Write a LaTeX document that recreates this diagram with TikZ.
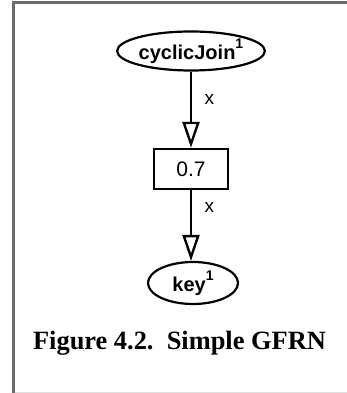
\documentclass[tikz,border=0pt]{standalone}
\usepackage{fontspec}
\setmainfont{Liberation Serif}
\setsansfont{Liberation Sans}
\usetikzlibrary{arrows.meta,shapes.geometric}
\newcommand{\supone}{\raisebox{0.55em}{\fontsize{14}{14}\selectfont 1}}
\begin{document}
\begin{tikzpicture}[x=1pt,y=-1pt,
  lbl/.style={font=\sffamily\fontsize{19}{21}\selectfont},
  concept/.style={ellipse,draw,line width=2.2pt,inner sep=0pt,
    font=\sffamily\bfseries\fontsize{20}{22}\selectfont},
  valbox/.style={rectangle,draw,line width=2.4pt,minimum width=74,minimum height=40,
    inner sep=0pt,font=\sffamily\fontsize{21}{23}\selectfont},
  link/.style={line width=2.7pt,-{Triangle[open,width=17pt,length=26pt,line width=2.4pt]}}]
  \useasboundingbox (0,0) rectangle (347,393);
  % frame
  \draw[gray!85!black,line width=3pt] (13.5,393) -- (13.5,2.5) -- (347,2.5);
  \draw[gray!25,line width=1pt] (15,392) -- (347,392);
  % nodes
  \node[concept,minimum width=144,minimum height=39] (cj) at (191,51)
    {cyclicJoin\supone};
  \node[valbox] (w) at (191,169) {0.7};
  \node[concept,minimum width=90,minimum height=42] (key) at (193,283)
    {key\supone};
  % links
  \draw[link] (cj.south -| w.north) -- (w.north) node[lbl,pos=0.37,right=9pt] {x};
  \draw[link] (w.south) -- (key.north -| w.south) node[lbl,pos=0.25,right=9pt] {x};
  % caption
  \node[font=\bfseries\fontsize{26.4}{30}\selectfont] (cap) at (179.5,343)
    {Figure 4.2.\ \ Simple GFRN};
\end{tikzpicture}
\end{document}
